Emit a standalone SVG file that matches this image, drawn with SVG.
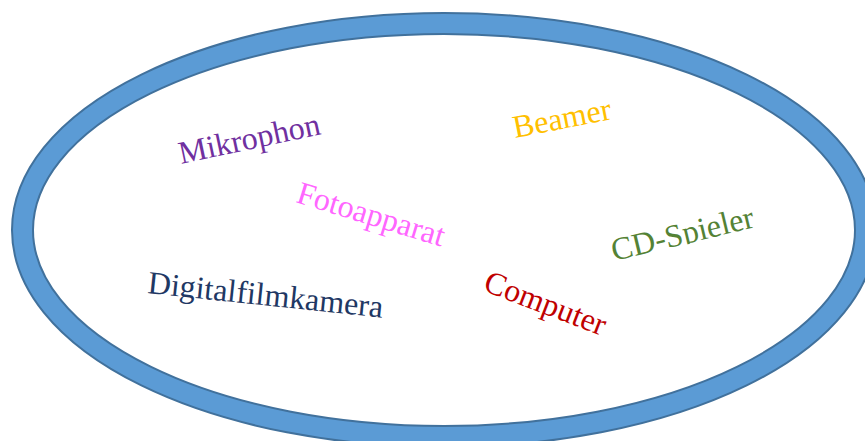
<svg xmlns="http://www.w3.org/2000/svg" width="865" height="441" viewBox="0 0 865 441">
<style>
.t{font-family:"Liberation Serif","Times New Roman",serif;font-size:32px}
</style>
<defs>
<clipPath id="cdclip"><rect x="-10" y="-40" width="180" height="41"/></clipPath>
</defs>
<rect width="865" height="441" fill="#fff"/>
<g id="ring">
<ellipse cx="444" cy="230" rx="421.5" ry="206.5" fill="none" stroke="#41719C" stroke-width="23"/>
<ellipse cx="444" cy="230" rx="421.5" ry="206.5" fill="none" stroke="#5B9BD5" stroke-width="19"/>
</g>
<g id="connectors"></g>
<g id="mikrophon"><text class="t" fill="#7030A0" transform="translate(181,164) rotate(-12)">Mikrophon</text></g>
<g id="beamer"><text class="t" fill="#FFC000" transform="translate(515,138) rotate(-11)">Beamer</text></g>
<g id="fotoapparat"><text class="t" fill="#FF66FF" transform="translate(295,202) rotate(17)">Fotoapparat</text></g>
<g id="cdspieler"><g transform="translate(614,261) rotate(-13.5)"><text class="t" fill="#548235" clip-path="url(#cdclip)">CD-Spieler</text></g></g>
<g id="digitalfilmkamera"><text class="t" fill="#1F3864" transform="translate(147,293) rotate(6)">Digitalfilmkamera</text></g>
<g id="computer"><text class="t" fill="#C00000" transform="translate(482,290) rotate(21)">Computer</text></g>
</svg>
